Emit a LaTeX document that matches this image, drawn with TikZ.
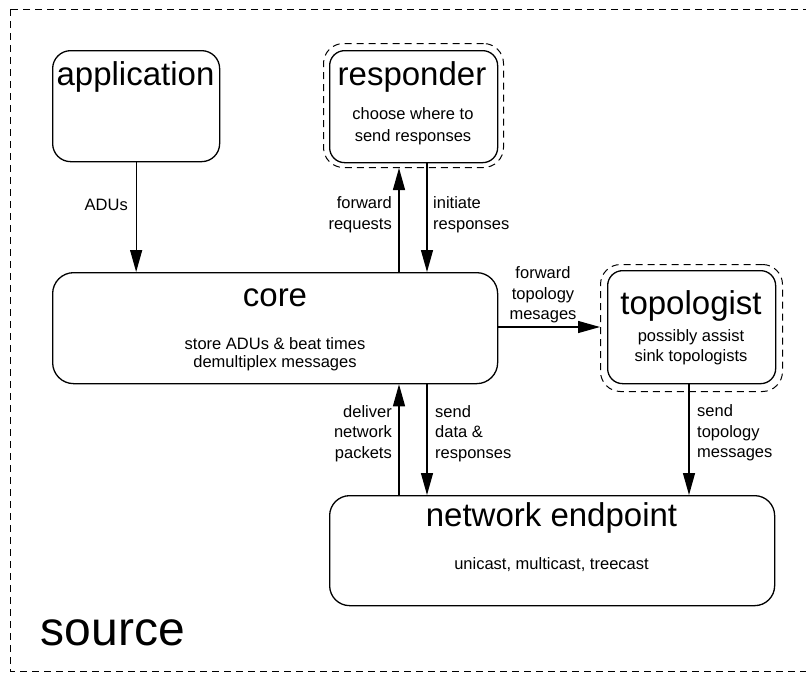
\documentclass[tikz,border=0pt]{standalone}
\usepackage{fontspec}
\setmainfont{Liberation Sans}
\usetikzlibrary{arrows.meta}
\begin{document}
\begin{tikzpicture}[x=1pt,y=-1pt,
  box/.style={draw, line width=1.3pt, rounded corners=18pt, inner sep=0pt, anchor=north west},
  outerbox/.style={draw, line width=1pt, dash pattern=on 7pt off 5pt, rounded corners=20pt, inner sep=0pt, anchor=north west},
  big/.style={font=\fontsize{33}{38}\selectfont, inner sep=0pt},
  small/.style={font=\fontsize{16.5}{20.5}\selectfont, inner sep=0pt},
  arr/.style={line width=1.3pt, -{Triangle[length=22pt,width=12pt]}},
]
\useasboundingbox (0,0) rectangle (806,675);
\begin{scope}
\clip (0,0) rectangle (806,675);
\draw[line width=1pt, dash pattern=on 7pt off 5pt] (10,9) rectangle (840,671);
\end{scope}

% boxes
\node[box, minimum width=167pt, minimum height=111pt] (app) at (52,50) {};
\node[box, rounded corners=15pt, minimum width=168pt, minimum height=112pt] (resp) at (329,50) {};
\node[outerbox, minimum width=180pt, minimum height=124pt] (respo) at (323,43) {};
\node[box, rounded corners=21pt, minimum width=445pt, minimum height=111pt] (core) at (52,272) {};
\node[box, rounded corners=15pt, minimum width=168pt, minimum height=113pt] (topo) at (607,270) {};
\node[outerbox, minimum width=182pt, minimum height=127pt] (topoo) at (600,264) {};
\node[box, rounded corners=20pt, minimum width=445pt, minimum height=110pt] (net) at (329,495) {};

% titles and descriptions
\node[big] (appt) at (135.5,77) {application};
\node[big] (respt) at (412,77) {responder};
\node[small, align=center, font=\fontsize{16.5}{22}\selectfont] (resps) at (413,126) {choose where to\\send responses};
\node[big] (coret) at (275,298) {core};
\node[small, align=center, font=\fontsize{16.5}{18.5}\selectfont] (cores) at (275,354) {store ADUs \& beat times\\demultiplex messages};
\node[big] (topot) at (691,306) {topologist};
\node[small, align=center, font=\fontsize{16.5}{20}\selectfont] (topos) at (691,347) {possibly assist\\sink topologists};
\node[big] (nett) at (551.5,518) {network endpoint};
\node[small] (nets) at (551.5,565) {unicast, multicast, treecast};
\node[inner sep=0pt, font=\fontsize{48}{52}\selectfont] (src) at (113,633) {source};

% connectors
\coordinate (xa) at (399,0);
\coordinate (xb) at (427,0);
\coordinate (xc) at (689,0);
\coordinate (yt) at (0,327);
\draw[arr] (app.south) -- (app.south |- core.north);
\draw[arr] (core.north -| xa) -- (respo.south -| xa);
\draw[arr] (resp.south -| xb) -- (core.north -| xb);
\draw[arr] (core.east |- yt) -- (topoo.west |- yt);
\draw[arr] (topo.south -| xc) -- (net.north -| xc);
\draw[arr] (net.north -| xa) -- (core.south -| xa);
\draw[arr] (core.south -| xb) -- (net.north -| xb);

% connector labels
\node[small, anchor=east] (l1) at (128,205) {ADUs};
\node[small, align=right, anchor=east] (l2) at (392,214.5) {forward\\requests};
\node[small, align=left, anchor=west] (l3) at (433,214.5) {initiate\\responses};
\node[small, align=center] (l4) at (543,295) {forward\\topology\\mesages};
\node[small, align=left, anchor=west] (l5) at (697,433) {send\\topology\\messages};
\node[small, align=right, anchor=east] (l6) at (392,433.5) {deliver\\network\\packets};
\node[small, align=left, anchor=west] (l7) at (435,433.5) {send\\data \&\\responses};
\end{tikzpicture}
\end{document}
